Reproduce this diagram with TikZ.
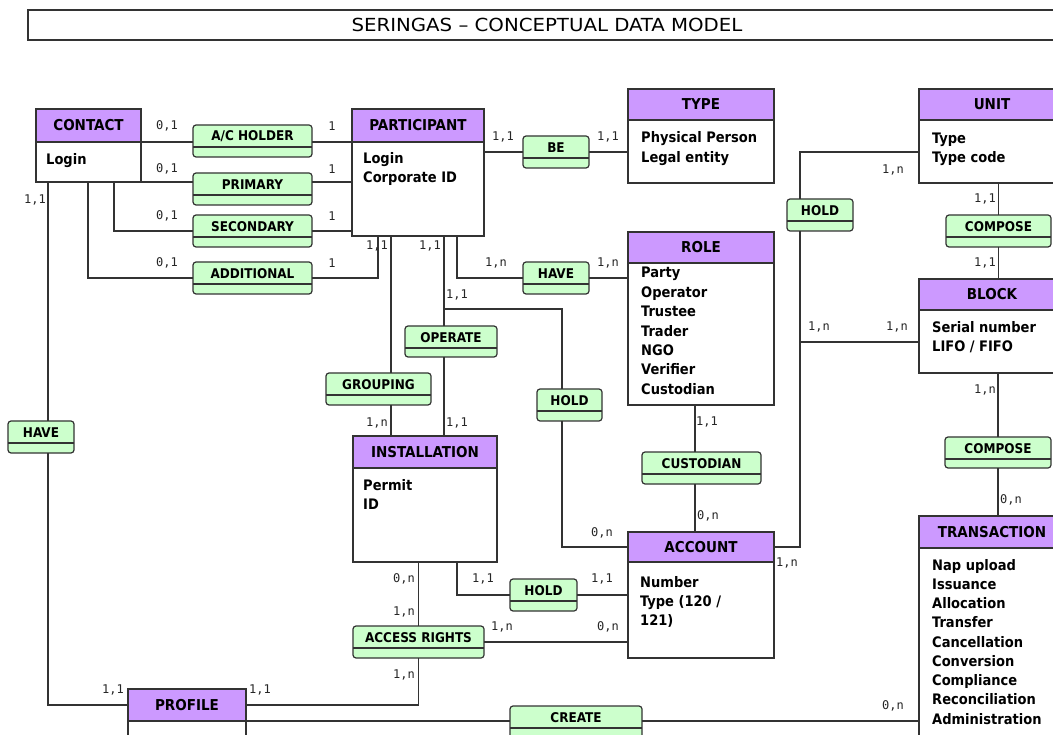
\documentclass[tikz,border=0pt]{standalone}
\usepackage{fontspec}
\newfontfamily\tah{DejaVu Sans Condensed}
\newfontfamily\pix{DejaVu Sans Mono}
\definecolor{dgray}{HTML}{333333}
\definecolor{hpurple}{HTML}{CC99FF}
\definecolor{rgreen}{HTML}{CCFFCC}
\tikzset{
 entbox/.style={rectangle, draw=dgray, fill=white, line width=1.2pt, inner sep=0pt, outer sep=0pt},
 enthead/.style={rectangle, draw=dgray, fill=hpurple, line width=1.2pt, inner sep=0pt, outer sep=0pt, font=\tah\bfseries\fontsize{15}{18}\selectfont},
 attr/.style={inner sep=0pt, anchor=base west, font=\tah\bfseries\fontsize{14.5}{19}\selectfont},
 relbox/.style={rectangle, draw=dgray, fill=rgreen, rounded corners=3pt, line width=1.2pt, inner sep=0pt, outer sep=0pt},
 reltext/.style={inner sep=0pt, font=\tah\bfseries\fontsize{13.4}{16}\selectfont},
 card/.style={inner sep=0pt, font=\pix\fontsize{12}{14}\selectfont, text=black!85},
 conn/.style={draw=dgray, line width=1.2pt},
 titlebox/.style={rectangle, draw=dgray, line width=1.2pt, inner sep=0pt, outer sep=0pt},
 titletext/.style={inner sep=0pt, font=\tah\fontsize{18}{20}\selectfont},
}
\newcommand{\entbx}[7]{%
  \node[entbox, minimum width=#4, minimum height=#5, anchor=north west] (#1) at (#2,#3) {};
  \node[enthead, minimum width=#4, minimum height=#6, anchor=north west] (#1-h) at (#2,#3) {#7};}
\newcommand{\relbx}[6]{%
  \node[relbox, minimum width=#4, minimum height=#5, anchor=north west] (#1) at (#2,#3) {};
  \draw[conn] ([yshift=-22pt]#1.north west) -- ([yshift=-22pt]#1.north east);
  \node[reltext] (#1-l) at ([yshift=-11.5pt]#1.north) {#6};}
\begin{document}
\begin{tikzpicture}[x=1pt,y=-1pt]
\useasboundingbox (0,0) rectangle (1053,735);
\fill[white] (0,0) rectangle (1053,735);
% title
\node[titlebox, minimum width=1038, minimum height=30, anchor=north west] (tbox) at (28,10) {};
\node[titletext] (title) at (547,25) {\scalebox{1.22}[1]{SERINGAS – CONCEPTUAL DATA MODEL}};
% entities
\entbx{contact}{36}{109}{105}{73}{33}{CONTACT}
\entbx{participant}{352}{109}{132}{127}{33}{PARTICIPANT}
\entbx{type}{628}{89}{146}{94}{31}{TYPE}
\entbx{unit}{919}{89}{146}{94}{31}{UNIT}
\entbx{role}{628}{232}{146}{173}{31}{ROLE}
\entbx{block}{919}{279}{146}{94}{31}{BLOCK}
\entbx{installation}{353}{436}{144}{126}{32}{INSTALLATION}
\entbx{account}{628}{532}{146}{126}{30}{ACCOUNT}
\entbx{transaction}{919}{516}{146}{240}{32}{TRANSACTION}
\entbx{profile}{128}{689}{118}{70}{32}{PROFILE}
% attributes
\node[attr] (contact-a0) at (46,165) {Login};
\node[attr] (participant-a0) at (363,164) {Login};
\node[attr] (participant-a1) at (363,183) {Corporate ID};
\node[attr] (type-a0) at (641,143) {Physical Person};
\node[attr] (type-a1) at (641,163) {Legal entity};
\node[attr] (unit-a0) at (932,144) {Type};
\node[attr] (unit-a1) at (932,163) {Type code};
\foreach \t [count=\i from 0] in {Party,Operator,Trustee,Trader,NGO,Verifier,Custodian}
  \node[attr] (role-a\i) at (641,278+19.4*\i) {\t};
\node[attr] (block-a0) at (932,333) {Serial number};
\node[attr] (block-a1) at (932,352) {LIFO / FIFO};
\node[attr] (installation-a0) at (363,490) {Permit};
\node[attr] (installation-a1) at (363,509) {ID};
\node[attr] (account-a0) at (640,587) {Number};
\node[attr] (account-a1) at (640,606) {Type (120 /};
\node[attr] (account-a2) at (640,625) {121)};
\foreach \t [count=\i from 0] in {Nap upload,Issuance,Allocation,Transfer,Cancellation,Conversion,Compliance,Reconciliation,Administration}
  \node[attr] (transaction-a\i) at (932,570+19.25*\i) {\t};
% relations
\relbx{acholder}{193}{125}{119}{32}{A/C HOLDER}
\relbx{primary}{193}{173}{119}{32}{PRIMARY}
\relbx{secondary}{193}{215}{119}{32}{SECONDARY}
\relbx{additional}{193}{262}{119}{32}{ADDITIONAL}
\relbx{be}{523}{136}{66}{32}{BE}
\relbx{havem}{523}{262}{66}{32}{HAVE}
\relbx{holdr}{787}{199}{66}{32}{HOLD}
\relbx{compose1}{946}{215}{105}{32}{COMPOSE}
\relbx{operate}{405}{326}{92}{31}{OPERATE}
\relbx{grouping}{326}{373}{105}{32}{GROUPING}
\relbx{holdm}{537}{389}{65}{32}{HOLD}
\relbx{havel}{8}{421}{66}{32}{HAVE}
\relbx{custodian}{642}{452}{119}{32}{CUSTODIAN}
\relbx{compose2}{945}{437}{106}{31}{COMPOSE}
\relbx{holdb}{510}{579}{67}{32}{HOLD}
\relbx{access}{353}{626}{131}{32}{ACCESS RIGHTS}
\relbx{create}{510}{706}{132}{32}{CREATE}
% helper coordinates
\coordinate (xsec) at (114,0);
\coordinate (xadd) at (88,0);
\coordinate (xhave) at (48,0);
\coordinate (xpadd) at (378,0);
\coordinate (xphave) at (457,0);
\coordinate (xgroup) at (391,0);
\coordinate (xop) at (444,0);
\coordinate (jhold) at (444,309);
\coordinate (xholdm) at (562,0);
\coordinate (hrt) at (800,152);
\coordinate (hrb) at (800,342);
\coordinate (xcust) at (695,0);
\coordinate (xib) at (457,0);
% connectors
\draw[conn] (contact-h.south east) -- (acholder.west |- contact-h.south east);
\draw[conn] (acholder.east |- participant-h.south west) -- (participant-h.south west);
\draw[conn] (contact.south east) -- (primary.west |- contact.south east);
\draw[conn] (primary.east |- contact.south east) -- (participant.west |- contact.south east);
\draw[conn] (contact.south -| xsec) |- (secondary.west);
\draw[conn] (secondary.east) -- (secondary.east -| participant.west);
\draw[conn] (contact.south -| xadd) |- (additional.west);
\draw[conn] (additional.east) -| (participant.south -| xpadd);
\draw[conn] (contact.south -| xhave) -- (havel.north -| xhave);
\draw[conn] (havel.south -| xhave) |- (profile-h.west);
\draw[conn] (participant.east |- be) -- (be.west);
\draw[conn] (be.east) -- (be.east -| type.west);
\draw[conn] (participant.south -| xphave) |- (havem.west);
\draw[conn] (havem.east) -- (havem.east -| role.west);
\draw[conn] (participant.south -| xgroup) -- (grouping.north -| xgroup);
\draw[conn] (grouping.south -| xgroup) -- (installation-h.north -| xgroup);
\draw[conn] (participant.south -| xop) -- (operate.north -| xop);
\draw[conn] (operate.south -| xop) -- (installation-h.north -| xop);
\draw[conn] (jhold) -| (holdm.north -| xholdm);
\draw[conn] (holdm.south -| xholdm) |- (account-h.west);
\draw[conn] (unit.west |- hrt) -- (hrt) -- (holdr.north -| hrt);
\draw[conn] (holdr.south -| hrt) |- (account-h.east);
\draw[conn] (hrb) -- (block.west |- hrb);
\draw[conn] (unit.south -| compose1) -- (compose1.north);
\draw[conn] (compose1.south) -- (block-h.north -| compose1);
\draw[conn] (block.south -| compose2) -- (compose2.north);
\draw[conn] (compose2.south) -- (transaction-h.north -| compose2);
\draw[conn] (role.south -| xcust) -- (custodian.north -| xcust);
\draw[conn] (custodian.south -| xcust) -- (account-h.north -| xcust);
\draw[conn] (installation.south -| xib) |- (holdb.west);
\draw[conn] (holdb.east) -- (holdb.east -| account.west);
\draw[conn] (installation.south -| access) -- (access.north);
\draw[conn] (access.east) -- (access.east -| account.west);
\draw[conn] (access.south) |- (profile-h.east);
\draw[conn] (profile-h.south east) -- (create.west |- profile-h.south east);
\draw[conn] (create.east |- profile-h.south east) -- (transaction.west |- profile-h.south east);
% cardinalities
\node[card] (k1) at (167,126) {0,1};
\node[card] (k2) at (332,126) {1};
\node[card] (k3) at (167,169) {0,1};
\node[card] (k4) at (332,169) {1};
\node[card] (k5) at (167,216) {0,1};
\node[card] (k6) at (332,216) {1};
\node[card] (k7) at (167,263) {0,1};
\node[card] (k8) at (332,263) {1};
\node[card] (k9) at (35,200) {1,1};
\node[card] (k10) at (503,137) {1,1};
\node[card] (k11) at (608,137) {1,1};
\node[card] (k12) at (496,263) {1,n};
\node[card] (k13) at (608,263) {1,n};
\node[card] (k14) at (377,246) {1,1};
\node[card] (k15) at (430,246) {1,1};
\node[card] (k16) at (457,295) {1,1};
\node[card] (k17) at (893,170) {1,n};
\node[card] (k18) at (985,199) {1,1};
\node[card] (k19) at (985,263) {1,1};
\node[card] (k20) at (819,327) {1,n};
\node[card] (k21) at (897,327) {1,n};
\node[card] (k22) at (377,423) {1,n};
\node[card] (k23) at (457,423) {1,1};
\node[card] (k24) at (707,422) {1,1};
\node[card] (k25) at (985,390) {1,n};
\node[card] (k26) at (1011,500) {0,n};
\node[card] (k27) at (787,563) {1,n};
\node[card] (k28) at (893,706) {0,n};
\node[card] (k29) at (602,533) {0,n};
\node[card] (k30) at (483,579) {1,1};
\node[card] (k31) at (602,579) {1,1};
\node[card] (k32) at (502,627) {1,n};
\node[card] (k33) at (608,627) {0,n};
\node[card] (k34) at (708,516) {0,n};
\node[card] (k35) at (404,579) {0,n};
\node[card] (k36) at (404,612) {1,n};
\node[card] (k37) at (404,675) {1,n};
\node[card] (k38) at (113,690) {1,1};
\node[card] (k39) at (260,690) {1,1};
\end{tikzpicture}
\end{document}
